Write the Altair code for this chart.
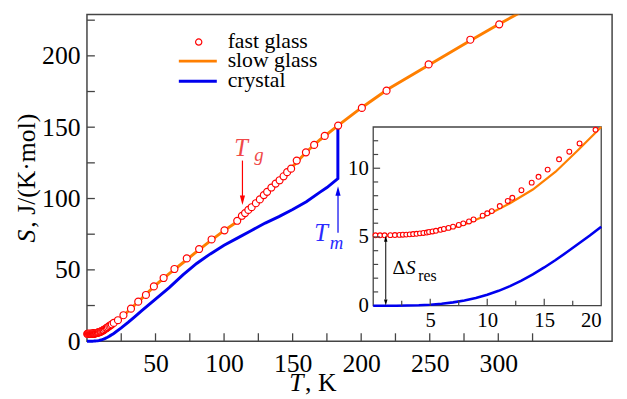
import altair as alt
import pandas as pd

# ---------------- data ----------------
fast_T = [0.2, 0.6, 1.0, 1.5, 1.9, 2.3, 2.6, 2.9, 3.2, 3.5, 3.8, 4.1, 4.4, 4.7, 4.9,
          5.2, 5.5, 5.9, 6.2, 6.6, 7.0, 7.5, 7.9, 8.4, 8.8, 9.6, 10.0, 10.4, 11.1, 11.8,
          12.2, 13.0, 13.9, 14.5, 15.3, 16.3, 17.2, 18.1, 19.5,
          22.6, 26.6, 32.1, 37.4, 43.0, 48.8, 55.9, 63.8, 72.8, 81.8, 90.9, 100.3, 109.6,
          113.0, 115.3, 117.7, 120.1, 123.2, 126.1, 129.0, 131.4, 134.5, 137.6, 140.5,
          143.4, 146.0, 148.9, 153.0, 159.7, 165.7, 173.4, 183.2, 200.5, 218.5, 249.2,
          279.6, 300.7]
fast_S = [5.12, 5.12, 5.12, 5.13, 5.14, 5.15, 5.16, 5.17, 5.19, 5.21, 5.23, 5.26, 5.29, 5.32, 5.36,
          5.40, 5.45, 5.52, 5.58, 5.66, 5.75, 5.87, 5.99, 6.13, 6.27, 6.55, 6.72, 6.88, 7.25, 7.62,
          7.85, 8.4, 8.95, 9.38, 9.9, 10.65, 11.2, 11.8, 12.8,
          14.7, 18.2, 22.8, 27.7, 32.4, 38.4, 44.3, 50.6, 58.0, 64.6, 71.3, 77.7, 84.4,
          87.9, 89.8, 92.0, 93.9, 96.7, 99.4, 102.4, 104.7, 107.7, 110.5, 112.8,
          115.6, 118.5, 120.9, 126.6, 132.4, 137.6, 143.9, 151.1, 163.5, 175.6, 194.0,
          211.3, 222.1]

slow_T = [0, 2, 4, 6, 8, 10, 12, 14, 16, 18, 20, 25, 30, 40, 50, 60, 70, 80, 90, 100,
          110, 120, 130, 140, 150, 160, 170, 183, 200, 220, 250, 280, 300, 320]
slow_S = [5.12, 5.13, 5.2, 5.45, 5.9, 6.6, 7.45, 8.45, 9.75, 11.35, 13.0, 16.6, 21.0, 30.0,
          39.3, 47.3, 55.0, 62.8, 70.3, 77.5, 84.0, 93.3, 103.2, 112.4, 122.5, 132.6, 141.2,
          151.1, 163.5, 177.0, 194.0, 211.0, 222.0, 232.5]

cryst_T = [0, 2, 4, 5, 6, 7, 8, 9, 10, 11, 12, 13, 14, 15, 16, 17, 18, 19, 20, 25, 30, 35,
           40, 45, 50, 60, 70, 80, 90, 100, 110, 120, 130, 140, 150, 160, 170, 175, 183, 183]
cryst_S = [0, 0.0, 0.03, 0.07, 0.14, 0.24, 0.37, 0.56, 0.8, 1.08, 1.42, 1.82, 2.28, 2.78, 3.32,
           3.9, 4.5, 5.1, 5.74, 9.3, 13.2, 17.3, 21.4, 25.5, 29.5, 37.5, 46.5, 54.5, 61.2, 67.2,
           72.4, 77.6, 82.8, 87.3, 92.3, 97.8, 104.5, 107.7, 114.0, 151.1]

main_x_labels = [50, 100, 150, 200, 250, 300]
main_y_labels = [0, 50, 100, 150, 200]
main_x_ticks = [25, 50, 75, 100, 125, 150, 175, 200, 225, 250, 275, 300, 325]
main_y_ticks = [25, 50, 75, 100, 125, 150, 175, 200, 225]
inset_x_labels = [5, 10, 15, 20]
inset_y_labels = [0, 5, 10]
inset_x_major = [5, 10, 15]
inset_x_minor = [2.5, 7.5, 12.5, 17.5]
inset_y_major = [5, 10]
inset_y_minor = [1, 2, 3, 4, 6, 7, 8, 9, 11, 12]
legend_labels = ["fast glass", "slow glass", "crystal"]

# ---------------- layout ----------------
FONT = "Liberation Serif"
W, H = 532, 331
XMAX, YMAX = 383, 229
IX0, IX1 = 290, 521      # inset pixel extent inside plot area
IY0, IY1 = 295, 114
RED, ORANGE, BLUE = "#ff0000", "#ff7f00", "#0000ee"
FRAME = "#444444"
HEAD_DOWN = "M0,1L-0.55,-1L0.55,-1Z"
HEAD_UP = "M0,-1L-0.55,1L0.55,1Z"

fast = pd.DataFrame({"T": fast_T, "S": fast_S})
slow = pd.DataFrame({"T": slow_T, "S": slow_S})
cryst = pd.DataFrame({"T": cryst_T, "S": cryst_S, "i": range(len(cryst_T))})

xs = alt.Scale(domain=[0, XMAX], nice=False, zero=False)
ys = alt.Scale(domain=[0, YMAX], nice=False, zero=False)
xi = alt.Scale(domain=[0, 20], range=[IX0, IX1], nice=False, zero=False)
yi = alt.Scale(domain=[0, 13], range=[IY0, IY1], nice=False, zero=False)

axx = alt.Axis(values=main_x_labels, ticks=False, domain=False, grid=False, labelFont=FONT,
               labelFontSize=26, labelColor="black", labelPadding=10, labelOverlap=False)
axy = alt.Axis(values=main_y_labels, ticks=False, domain=False, grid=False, labelFont=FONT,
               labelFontSize=26, labelColor="black", labelPadding=7, labelOverlap=False)
aix = alt.Axis(values=inset_x_labels, ticks=False, domain=False, grid=False, labelFont=FONT,
               labelFontSize=21, labelColor="black", labelPadding=4, orient="bottom",
               offset=-(H - IY0), labelOverlap=False)
aiy = alt.Axis(values=inset_y_labels, ticks=False, domain=False, grid=False, labelFont=FONT,
               labelFontSize=21, labelColor="black", labelPadding=5, orient="left",
               offset=-IX0, labelOverlap=False)


def text(t, x, y, size, color="black", italic=False, baseline="alphabetic"):
    kw = {"fontStyle": "italic"} if italic else {}
    return alt.Chart().mark_text(text=t, font=FONT, fontSize=size, color=color, align="left",
                                 baseline=baseline, **kw).encode(
        x=alt.datum(x), y=alt.datum(y))


def ptext(t, x, y, size, italic=False, angle=0):
    kw = {"fontStyle": "italic"} if italic else {}
    return alt.Chart().mark_text(text=t, font=FONT, fontSize=size, color="black", align="left",
                                 baseline="alphabetic", angle=angle, **kw).encode(
        x=alt.value(x), y=alt.value(y))


# ---------------- main plot ----------------
slow_line = alt.Chart(slow).mark_line(color=ORANGE, strokeWidth=3, clip=True).encode(
    x=alt.X("T:Q", scale=xs, axis=axx, title=None),
    y=alt.Y("S:Q", scale=ys, axis=axy, title=None))
cryst_line = alt.Chart(cryst).mark_line(color=BLUE, strokeWidth=3).encode(
    x=alt.X("T:Q", scale=xs, title=None), y=alt.Y("S:Q", scale=ys, title=None), order="i:Q")
fast_pts = alt.Chart(fast).mark_point(shape="circle", filled=True, fill="white", stroke=RED,
                                      strokeWidth=1.2, size=50, opacity=1).encode(
    x=alt.X("T:Q", scale=xs, title=None), y=alt.Y("S:Q", scale=ys, title=None))

xt = alt.Chart(pd.DataFrame({"v": main_x_ticks})).mark_rule(color=FRAME, strokeWidth=1.3).encode(
    x=alt.X("v:Q", scale=xs, title=None), y=alt.value(H), y2=alt.value(H - 8))
yt = alt.Chart(pd.DataFrame({"v": main_y_ticks})).mark_rule(color=FRAME, strokeWidth=1.3).encode(
    y=alt.Y("v:Q", scale=ys, title=None), x=alt.value(0), x2=alt.value(8))

# legend
leg_pt = alt.Chart().mark_point(shape="circle", filled=True, fill="white", stroke=RED,
                                strokeWidth=1.2, size=40, opacity=1).encode(
    x=alt.datum(81.5), y=alt.datum(209.7))
leg_slow = alt.Chart().mark_rule(color=ORANGE, strokeWidth=3).encode(
    x=alt.datum(67), x2=alt.datum(94.7), y=alt.datum(196.3))
leg_cry = alt.Chart().mark_rule(color=BLUE, strokeWidth=3).encode(
    x=alt.datum(67), x2=alt.datum(94.7), y=alt.datum(182.2))
leg_txt = [text(legend_labels[k], 102.6, yv, 22, baseline="middle")
           for k, yv in enumerate([210.5, 197.0, 183.0])]

# Tg annotation
tg_line = alt.Chart().mark_rule(color=RED, strokeWidth=1.2).encode(
    x=alt.datum(113.4), y=alt.datum(126.6), y2=alt.datum(100))
tg_head = alt.Chart().mark_point(shape=HEAD_DOWN, filled=True, color=RED, size=90,
                                 opacity=1, yOffset=-4.7).encode(
    x=alt.datum(113.4), y=alt.datum(95.5))
tg_T = text("T", 107.4, 130.1, 25, color="#f04848", italic=True)
tg_g = text("g", 122.0, 126.4, 19, color="#f04848", italic=True)

# Tm annotation
tm_line = alt.Chart().mark_rule(color=BLUE, strokeWidth=1.2).encode(
    x=alt.datum(183.1), y=alt.datum(76), y2=alt.datum(104))
tm_head = alt.Chart().mark_point(shape=HEAD_UP, filled=True, color=BLUE, size=90,
                                 opacity=1, yOffset=4.7).encode(
    x=alt.datum(183.1), y=alt.datum(108.5))
tm_T = text("T", 165.8, 69.9, 25, color="#2a2aff", italic=True)
tm_m = text("m", 177.0, 64.6, 19, color="#2a2aff", italic=True)

# axis titles (italic symbol + plain unit)
yt_S = ptext("S", -53, 231, 26, italic=True, angle=270)
yt_u = ptext(", J/(K·mol)", -53, 216, 26, angle=270)
xt_T = ptext("T", 205, 381, 26, italic=True)
xt_u = ptext(", K", 221, 381, 26)

main = alt.layer(slow_line, cryst_line, fast_pts, xt, yt, leg_pt, leg_slow, leg_cry, *leg_txt,
                 tg_line, tg_head, tg_T, tg_g, tm_line, tm_head, tm_T, tm_m,
                 yt_S, yt_u, xt_T, xt_u)

# ---------------- inset ----------------
frame = alt.Chart().mark_rect(fill="white", stroke=FRAME, strokeWidth=1.3).encode(
    x=alt.datum(0, scale=xi), x2=alt.datum(20), y=alt.datum(0, scale=yi), y2=alt.datum(13))
i_slow = alt.Chart(slow[slow["T"] <= 20]).mark_line(color=ORANGE, strokeWidth=2.2).encode(
    x=alt.X("T:Q", scale=xi, axis=aix, title=None),
    y=alt.Y("S:Q", scale=yi, axis=aiy, title=None))
i_cry = alt.Chart(cryst[cryst["T"] <= 20]).mark_line(color=BLUE, strokeWidth=2.6).encode(
    x=alt.X("T:Q", scale=xi, title=None), y=alt.Y("S:Q", scale=yi, title=None), order="i:Q")
i_fast = alt.Chart(fast[fast["T"] <= 20]).mark_point(shape="circle", filled=True, fill="white",
                                                     stroke=RED, strokeWidth=1.1, size=24,
                                                     opacity=1).encode(
    x=alt.X("T:Q", scale=xi, title=None), y=alt.Y("S:Q", scale=yi, title=None))


def xticks(vals, length):
    return alt.Chart(pd.DataFrame({"v": vals})).mark_rule(
        color=FRAME, strokeWidth=1.2, y2Offset=-length).encode(
        x=alt.X("v:Q", scale=xi, title=None), y=alt.datum(0), y2=alt.datum(0))


def yticks(vals, length):
    return alt.Chart(pd.DataFrame({"v": vals})).mark_rule(
        color=FRAME, strokeWidth=1.2, x2Offset=length).encode(
        y=alt.Y("v:Q", scale=yi, title=None), x=alt.datum(0), x2=alt.datum(0))


d_line = alt.Chart().mark_rule(color="black", strokeWidth=1).encode(
    x=alt.datum(1.1), y=alt.datum(0.45), y2=alt.datum(4.7))
d_top = alt.Chart().mark_point(shape=HEAD_UP, filled=True, color="black", size=40,
                               opacity=1, yOffset=3.2).encode(x=alt.datum(1.1), y=alt.datum(5.1))
d_bot = alt.Chart().mark_point(shape=HEAD_DOWN, filled=True, color="black", size=40,
                               opacity=1, yOffset=-3.2).encode(x=alt.datum(1.1), y=alt.datum(0))
ds_D = text("Δ", 1.7, 2.29, 20)
ds_S = text("S", 2.85, 2.29, 20, italic=True)
ds_r = text("res", 3.95, 1.79, 16)

inset = alt.layer(frame, i_slow, i_cry, i_fast, xticks(inset_x_major, 7), xticks(inset_x_minor, 5),
                  yticks(inset_y_major, 7), yticks(inset_y_minor, 5),
                  d_line, d_top, d_bot, ds_D, ds_S, ds_r)

chart = alt.layer(main, inset).resolve_scale(x="independent", y="independent").properties(
    width=W, height=H, autosize="none",
    padding={"left": 80, "top": 4, "right": 7, "bottom": 56}, background="white",
).configure_view(stroke=FRAME, strokeWidth=1.5)

chart.save("out.html", embed_options={"renderer": "svg", "actions": False})
